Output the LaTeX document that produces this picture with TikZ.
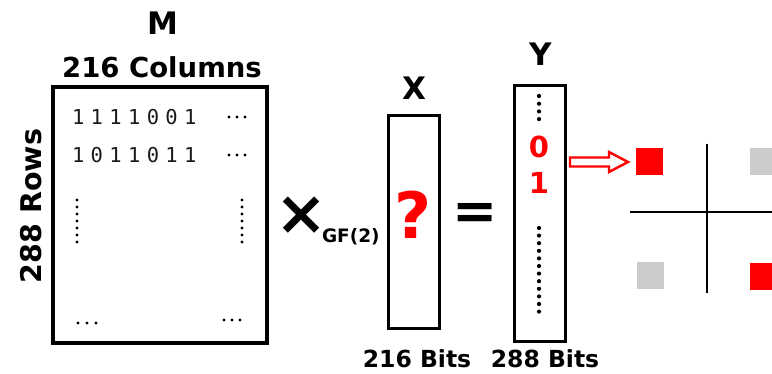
\documentclass[tikz,border=0pt]{standalone}
\usepackage{fontspec}
\setmainfont{DejaVu Sans}
\newfontfamily\digf[LetterSpace=31]{DejaVu Sans Mono}
\usetikzlibrary{calc}
\begin{document}
\begin{tikzpicture}[x=1pt,y=-1pt,
  txt/.style={inner sep=0pt, outer sep=0pt},
  big/.style={txt, font=\bfseries\fontsize{31}{31}\selectfont},
  bits/.style={txt, font=\bfseries\fontsize{23.5}{23.5}\selectfont},
  box/.style={draw, line width=3pt, inner sep=0pt, outer sep=0pt},
  sq/.style={minimum size=27pt, inner sep=0pt, outer sep=0pt},
  dig/.style={txt, anchor=west, font=\digf\fontsize{20.5}{20.5}\selectfont, text=black!90},
  bitred/.style={txt, text=red, font=\bfseries\fontsize{29}{29}\selectfont},
  arr/.style={draw=red, line width=2.4pt, fill=white, line join=miter},
  dot/.style={fill=black}
]
\useasboundingbox (0,0) rectangle (772,374);

% --- Matrix M ---
\node[box, line width=3.3pt, minimum width=214pt, minimum height=256pt] (M) at (160,215) {};
\node[big] (Mlab) at (163,23) {M};
\node[txt, font=\bfseries\fontsize{27.5}{27.5}\selectfont] (Mcols) at (162,67) {216 Columns};
\node[txt, rotate=90, font=\bfseries\fontsize{28.5}{28.5}\selectfont] (Mrows) at (31,206) {288 Rows};
\node[dig] (r1) at (72,117) {1111001};
\node[dig] (r2) at (72,155) {1011011};
\foreach \y in {117,155} \foreach \x in {229,237,245} \fill[dot] (\x,\y) circle (1.7pt);
\foreach \x in {78,87,96} \fill[dot] (\x,323) circle (1.7pt);
\foreach \x in {224,232,240} \fill[dot] (\x,320) circle (1.7pt);
\foreach \i in {0,...,6} {
  \fill[dot] (77,200+7*\i) circle (1.6pt);
  \fill[dot] (242,200+7*\i) circle (1.6pt);
}

% --- operator ---
\node[txt, font=\bfseries\fontsize{62}{62}\selectfont] (times) at (301,216) {\makebox[36pt]{×}};
\node[txt, anchor=base west, font=\bfseries\fontsize{18.5}{18.5}\selectfont] (gf) at (322,243) {GF(2)};

% --- vector X ---
\node[box, minimum width=51pt, minimum height=213pt] (X) at (413.5,222.5) {};
\node[big] (Xlab) at (414,88) {X};
\node[txt, text=red, font=\bfseries\fontsize{64}{64}\selectfont] (q) at (413,215) {?};
\node[bits] (Xbits) at (417,359) {216 Bits};

% --- equals ---
\node[txt, font=\bfseries\fontsize{54}{54}\selectfont] (eq) at (475,216) {=};

% --- vector Y ---
\node[box, minimum width=51pt, minimum height=256pt] (Y) at (539.5,214) {};
\node[big] (Ylab) at (541,54) {Y};
\node[bitred] (b0) at (539,147) {0};
\node[bitred] (b1) at (539,183) {1};
\node[bits] (Ybits) at (545,359) {288 Bits};
\foreach \i in {0,...,3} \fill[dot] (539,96+7.7*\i) circle (2.1pt);
\foreach \i in {0,...,11} \fill[dot] (539,228+7.6*\i) circle (2.1pt);

% --- constellation ---
\node[sq, fill=red] (sqA) at (649.5,162) {};
\node[sq, fill=black!20] (sqB) at (763.5,162) {};
\node[sq, fill=black!20] (sqC) at (650.5,275.5) {};
\node[sq, fill=red] (sqD) at (763.5,276.5) {};
\draw[line width=2.6pt] (707,144) -- (707,293);
\draw[line width=2.6pt] (630,212) -- (772,212);

% --- arrow from Y to symbol ---
\coordinate (arS) at ($(Y.east |- sqA.west)+(5,0)$);
\coordinate (arE) at ($(sqA.west)+(-8,0)$);
\draw[arr] let \p1=(arS), \p2=(arE) in
  (\x1,\y1-4.5pt) -- (\x2-19pt,\y1-4.5pt) -- (\x2-19pt,\y1-10pt) -- (\x2,\y1)
  -- (\x2-19pt,\y1+10pt) -- (\x2-19pt,\y1+4.5pt) -- (\x1,\y1+4.5pt) -- cycle;
\end{tikzpicture}
\end{document}
